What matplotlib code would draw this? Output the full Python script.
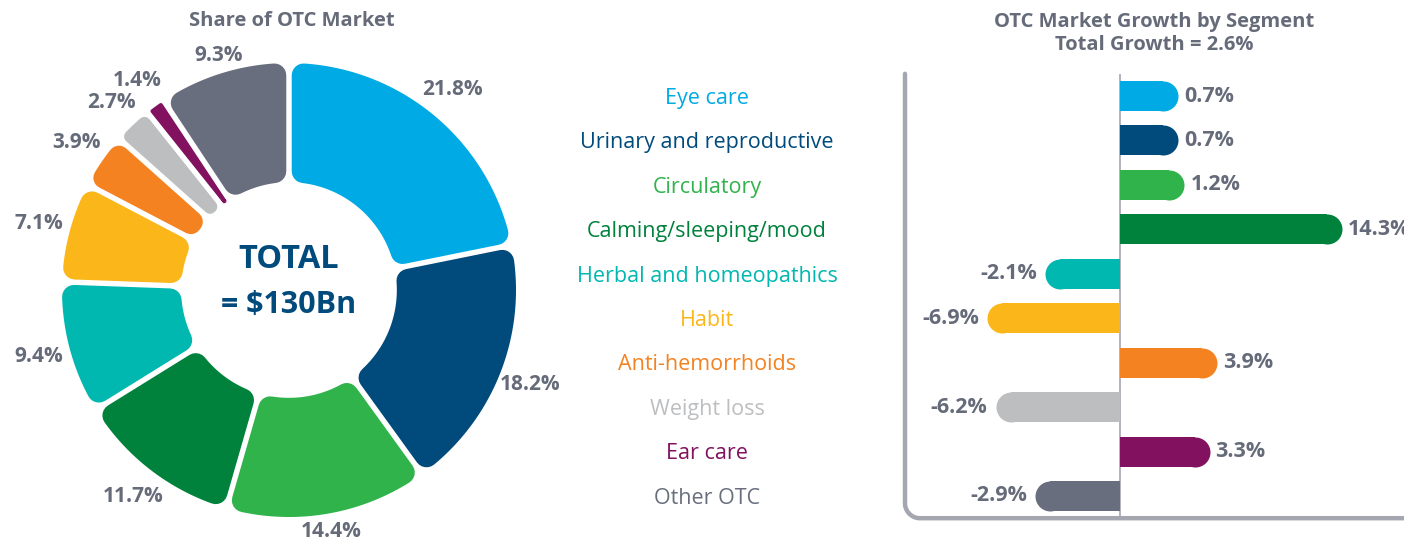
import numpy as np
import matplotlib
matplotlib.use("Agg")
import matplotlib.pyplot as plt
import matplotlib.transforms as mtransforms
from matplotlib.patches import Polygon

plt.rcParams['font.family'] = ['Open Sans', 'DejaVu Sans']

segments = ["Eye care", "Urinary and reproductive", "Circulatory", "Calming/sleeping/mood",
            "Herbal and homeopathics", "Habit", "Anti-hemorrhoids", "Weight loss",
            "Ear care", "Other OTC"]
share = [21.8, 18.2, 14.4, 11.7, 9.4, 7.1, 3.9, 2.7, 1.4, 9.3]
growth = [0.7, 0.7, 1.2, 14.3, -2.1, -6.9, 3.9, -6.2, 3.3, -2.9]
colors = ["#00aae4", "#004a7c", "#30b34b", "#00823c", "#00b8b0",
          "#fbb619", "#f58220", "#bcbec0", "#821160", "#686e7e"]

grey_txt = "#666b7a"
frame_col = "#a4a6b0"

fig = plt.figure(figsize=(14.04, 5.4), dpi=100)
W, H = 1404, 540


def rounded_wedge(ax, t1, t2, r_in, r_out, gap, rad, color):
    # wedge from t1 to t2 (deg), shrunk by rad then stroked with round joins
    h = np.radians(t2 - t1) / 2
    s = np.sin(h)
    rmax = (r_in * s - gap / 2) / (1 - s) * 0.9
    rad = max(min(rad, rmax), 0.002)
    d = gap / 2 + rad
    ro, ri = r_out - rad, r_in + rad
    a1o, a2o = np.radians(t1) + np.arcsin(d / ro), np.radians(t2) - np.arcsin(d / ro)
    a1i, a2i = np.radians(t1) + np.arcsin(d / ri), np.radians(t2) - np.arcsin(d / ri)
    th_o = np.linspace(a1o, a2o, 80)
    th_i = np.linspace(a2i, a1i, 80)
    pts = np.concatenate([np.c_[ro * np.cos(th_o), ro * np.sin(th_o)],
                          np.c_[ri * np.cos(th_i), ri * np.sin(th_i)]])
    px_per_unit = ax.transData.transform((1, 0))[0] - ax.transData.transform((0, 0))[0]
    lw = 2 * rad * px_per_unit * 72 / fig.dpi
    ax.add_patch(Polygon(pts, closed=True, facecolor=color, edgecolor=color,
                         linewidth=lw, joinstyle='round'))


# ---- donut ----
cx, cy, R = 289, 290, 227
half = 300
ax1 = fig.add_axes([(cx - half) / W, (H - cy - half) / H, 2 * half / W, 2 * half / H])
lim = half / R
ax1.set_xlim(-lim, lim)
ax1.set_ylim(-lim, lim)
ax1.set_aspect('equal')
ax1.axis('off')
fig.canvas.draw()

start = 90.0
for val, col in zip(share, colors):
    span = val / sum(share) * 360
    t2 = start
    t1 = start - span
    rounded_wedge(ax1, t1, t2, 0.475, 1.0, 0.024, 0.052, col)
    mid = np.radians((t1 + t2) / 2)
    r_lab = 1.14
    if abs(np.sin(mid)) > 0.9:
        r_lab = 1.08
    ax1.text(r_lab * np.cos(mid), r_lab * np.sin(mid), f"{val}%", ha='center', va='center',
             fontsize=15, fontweight='bold', color=grey_txt)
    start = t1

ax1.text(0, 0.135, "TOTAL", ha='center', va='center', fontsize=23.5, fontweight='bold', color="#004a7c")
ax1.text(0, -0.065, "= $130Bn", ha='center', va='center', fontsize=22, fontweight='bold', color="#004a7c")
fig.text(292 / W, 1 - 21 / H, "Share of OTC Market", ha='center', va='center',
         fontsize=14.5, fontweight='bold', color=grey_txt)

# ---- growth bars ----
left_px, right_px, top_px, bot_px = 905, 1404, 73.8, 518.2
ax2 = fig.add_axes([left_px / W, 1 - bot_px / H, (right_px - left_px) / W, (bot_px - top_px) / H])
px_per_pct = 12.0
zero_px = 1120
ax2.set_xlim(-(zero_px - left_px) / px_per_pct, (right_px - zero_px) / px_per_pct)
ax2.set_ylim(len(growth) - 0.5, -0.5)
ax2.axis('off')

rows = np.arange(len(growth))
row_px = (bot_px - top_px) / len(growth)
bar_px = 30
pad = 35 / px_per_pct
ends = [g + np.sign(g) * pad for g in growth]
ax2.barh(rows, ends, height=bar_px / row_px, color=colors, zorder=2)
for y, e, g, col in zip(rows, ends, growth, colors):
    ax2.plot(e, y, 'o', ms=bar_px * 72 / fig.dpi, color=col, mec='none', zorder=2)
    off = 21 if g > 0 else -23
    ax2.annotate(f"{g}%", (e, y), xytext=(off * 72 / fig.dpi, 0), textcoords='offset points',
                 ha='left' if g > 0 else 'right', va='center', fontsize=15.5,
                 fontweight='bold', color=grey_txt, annotation_clip=False)

ax2.axvline(0, color=frame_col, lw=1.2, zorder=1)

# frame with rounded bottom-left corner
rc = 15
rx, ry = rc / (right_px - left_px), rc / (bot_px - top_px)
ang = np.linspace(np.pi, 1.5 * np.pi, 30)
fx = np.concatenate([[0, 0], rx + rx * np.cos(ang), [1]])
fy = np.concatenate([[1, ry], ry + ry * np.sin(ang), [0]])
ax2.plot(fx, fy, transform=ax2.transAxes, color=frame_col, lw=3.2, clip_on=False,
         solid_capstyle='round', solid_joinstyle='round')

fig.text(1154 / W, 1 - 22 / H, "OTC Market Growth by Segment", ha='center', va='center',
         fontsize=14.5, fontweight='bold', color=grey_txt)
fig.text(1154 / W, 1 - 45 / H, "Total Growth = 2.6%", ha='center', va='center',
         fontsize=14.5, fontweight='bold', color=grey_txt)

# legend column aligned with bar rows
trans = mtransforms.blended_transform_factory(fig.transFigure, ax2.transData)
for y, name, col in zip(rows, segments, colors):
    fig.text(707 / W, y + 0.05, name, transform=trans, ha='center', va='center',
             fontsize=15.5, color=col)

fig.savefig("out.png", dpi=100)
